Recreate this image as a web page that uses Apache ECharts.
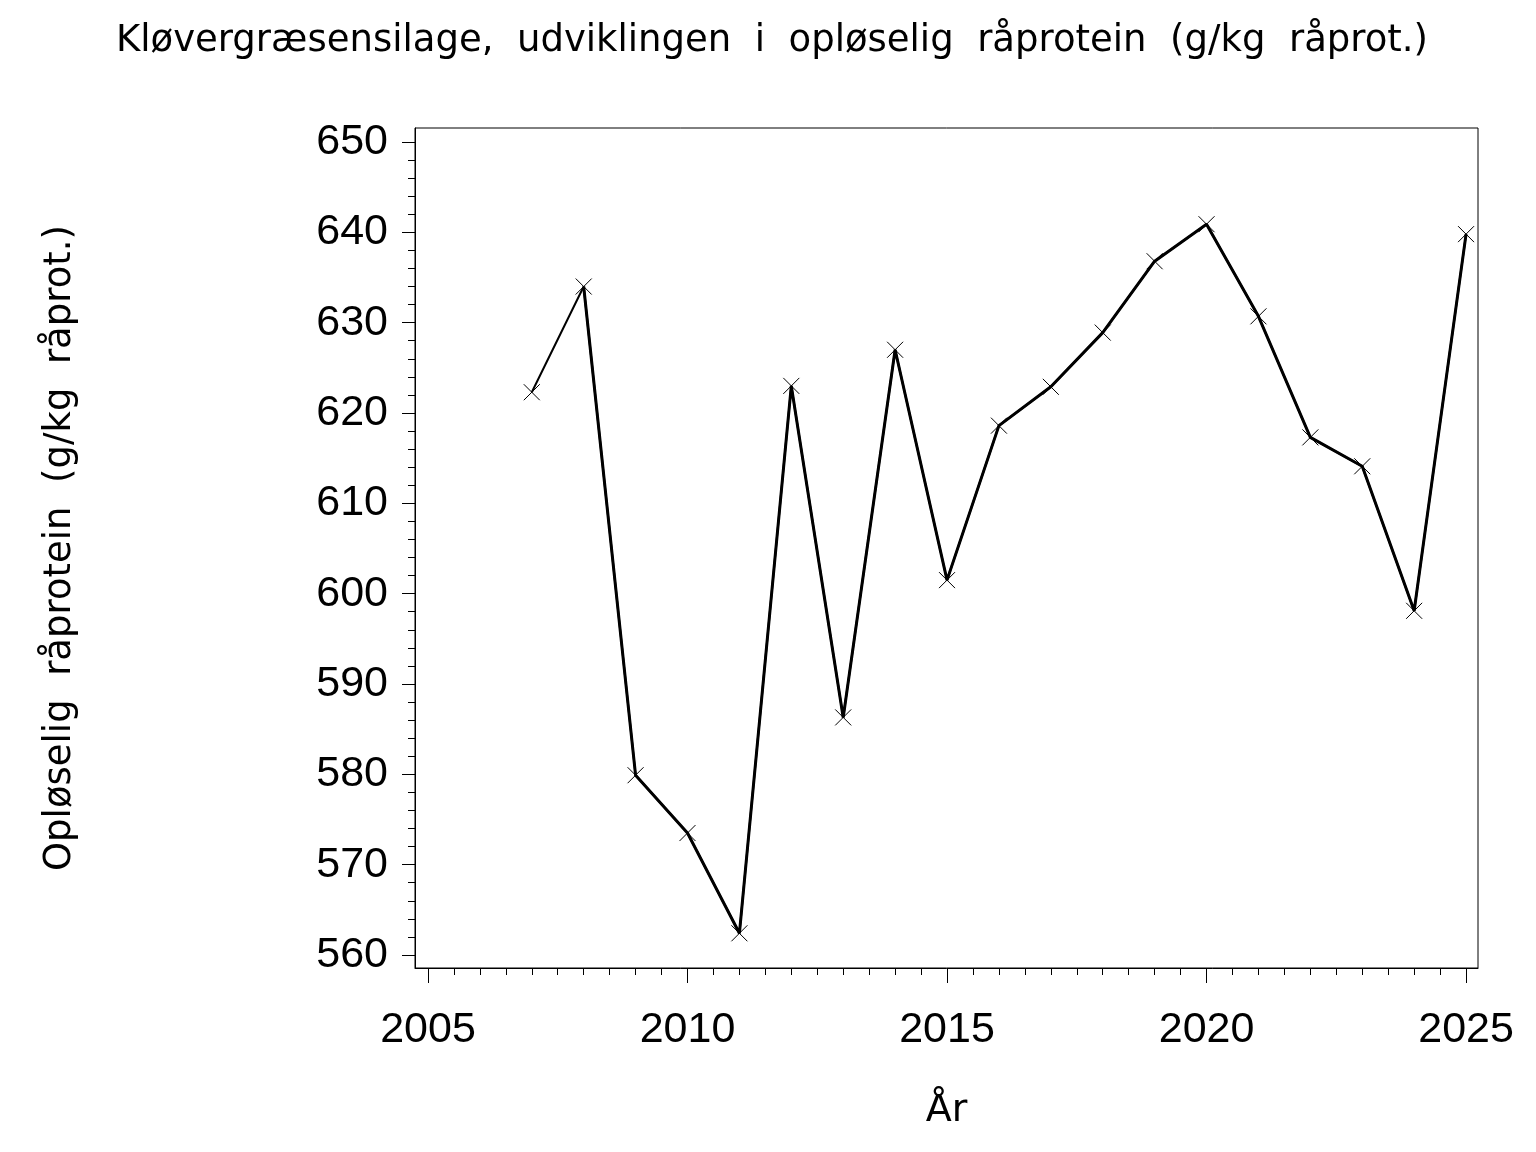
<!DOCTYPE html>
<html><head><meta charset="utf-8">
<script src="https://cdn.jsdelivr.net/npm/echarts@6/dist/echarts.min.js"></script>
<style>html,body{margin:0;padding:0;background:#fff}#c{width:1536px;height:1152px}</style>
</head><body><div id="c"></div>
<script>
const years = [2007,2008,2009,2010,2011,2012,2013,2014,2015,2016,2017,2018,2019,2020,2021,2022,2023,2024,2025];
const values = [622.3,634.0,579.9,573.5,562.4,623.0,586.3,627.0,601.5,618.6,622.9,628.9,636.8,640.9,630.7,617.3,614.1,598.1,639.8];
const yMajorTicks = [560,570,580,590,600,610,620,630,640,650];
const yMinorTicks = [];
for (let v = 560; v <= 650; v += 2) yMinorTicks.push(v);
const xMajorTicks = [2005,2010,2015,2020,2025];
const xMinorTicks = [];
for (let v = 2005; v <= 2025; v += 0.5) xMinorTicks.push(v);

const font = 'Liberation Sans';
const wide = 'DejaVu Sans';
const yMin = 558.56, yMax = 651.55, xMin = 2004.75, xMax = 2025.23;
const pts = years.map((y, i) => [y, values[i]]);
const pts2 = years.map((y, i) => i === 0 ? [y, null] : [y, values[i]]);

const chart = echarts.init(document.getElementById('c'), null, {renderer: 'canvas'});
chart.setOption({
  animation: false,
  backgroundColor: '#fff',
  title: {
    text: 'Kløvergræsensilage,  udviklingen  i  opløselig  råprotein  (g/kg  råprot.)',
    left: 767, top: 18, textAlign: 'center',
    textStyle: {fontFamily: wide, fontSize: 37, fontWeight: 'normal', color: '#000'}
  },
  grid: {left: 415, right: 58, top: 128, bottom: 184, show: true, borderColor: '#000', borderWidth: 1, backgroundColor: 'transparent'},
  xAxis: [
    {type: 'value', min: xMin, max: xMax, position: 'bottom',
     name: 'År', nameLocation: 'middle', nameGap: 124,
     nameTextStyle: {fontFamily: wide, fontSize: 38, color: '#000'},
     axisLine: {show: true, lineStyle: {color: '#000', width: 1}},
     axisTick: {show: true, customValues: xMajorTicks, length: 15, inside: false, lineStyle: {color: '#000', width: 1}},
     axisLabel: {customValues: xMajorTicks, margin: 41, fontFamily: font, fontSize: 43, color: '#000', formatter: v => String(v)},
     splitLine: {show: false}},
    {type: 'value', min: xMin, max: xMax, position: 'bottom',
     axisLine: {show: false},
     axisTick: {show: true, customValues: xMinorTicks, length: 7, lineStyle: {color: '#000', width: 1}},
     axisLabel: {show: false}, splitLine: {show: false}}
  ],
  yAxis: [
    {type: 'value', min: yMin, max: yMax, position: 'left',
     name: 'Opløselig  råprotein  (g/kg  råprot.)', nameLocation: 'middle', nameGap: 336, nameRotate: 90,
     nameTextStyle: {fontFamily: wide, fontSize: 37, color: '#000'},
     axisLine: {show: true, lineStyle: {color: '#000', width: 1}},
     axisTick: {show: true, customValues: yMajorTicks, length: 13, lineStyle: {color: '#000', width: 1}},
     axisLabel: {customValues: yMajorTicks, margin: 27, fontFamily: font, fontSize: 43, color: '#000'},
     splitLine: {show: false}},
    {type: 'value', min: yMin, max: yMax, position: 'left',
     axisLine: {show: false},
     axisTick: {show: true, customValues: yMinorTicks, length: 7, lineStyle: {color: '#000', width: 1}},
     axisLabel: {show: false}, splitLine: {show: false}}
  ],
  series: [
    {type: 'line', xAxisIndex: 0, yAxisIndex: 0, data: pts,
     lineStyle: {color: '#000', width: 2},
     symbol: 'path://M0,0L10,10M10,0L0,10', symbolSize: 16,
     itemStyle: {color: '#000', borderColor: '#000', borderWidth: 1},
     emphasis: {disabled: true}, z: 3},
    {type: 'line', xAxisIndex: 0, yAxisIndex: 0, data: pts2, connectNulls: false,
     lineStyle: {color: '#000', width: 3}, showSymbol: false, symbol: 'none',
     emphasis: {disabled: true}, z: 2}
  ]
});
</script></body></html>
